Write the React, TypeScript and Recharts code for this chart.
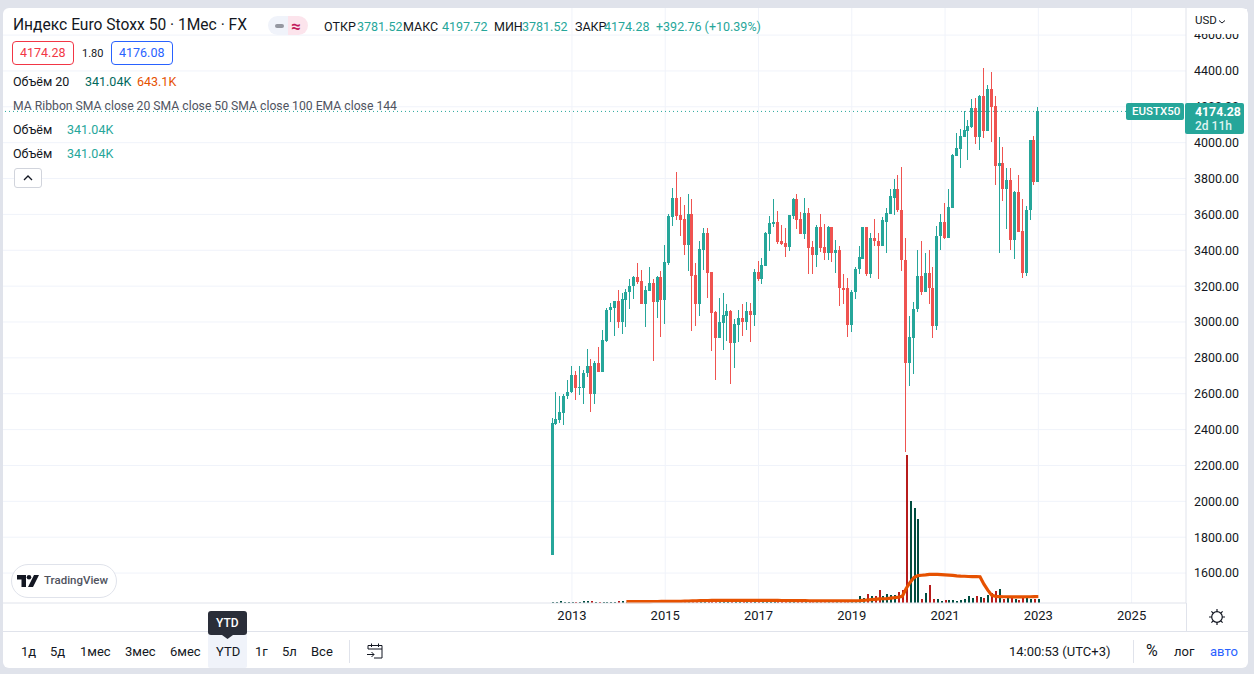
import React from 'react';
import { ComposedChart, Bar, Line, XAxis, YAxis, CartesianGrid, ReferenceLine } from 'recharts';

// monthly bars, Aug 2012 .. Jan 2023
const opens = [
  1702, 2430, 2453, 2495, 2587, 2609, 2702, 2631, 2634, 2713,
  2757, 2598, 2769, 2720, 2896, 3065, 3080, 3119, 3002, 3124,
  3165, 3198, 3252, 3230, 3102, 3174, 3219, 3113, 3252, 3124,
  3330, 3585, 3691, 3596, 3574, 3430, 3602, 3263, 3102, 3402,
  3496, 3280, 3057, 2913, 2996, 3035, 3063, 2885, 2985, 3024,
  3002, 3063, 3041, 3280, 3241, 3313, 3491, 3546, 3557, 3452,
  3441, 3419, 3591, 3688, 3577, 3488, 3610, 3421, 3371, 3527,
  3421, 3382, 3527, 3387, 3399, 3192, 3187, 2986, 3165, 3293,
  3354, 3527, 3270, 3471, 3454, 3426, 3560, 3605, 3694, 3739,
  3627, 3348, 2774, 2908, 3070, 3254, 3170, 3276, 3192, 2975,
  3477, 3555, 3471, 3638, 3928, 3967, 4034, 4067, 4090, 4195,
  4034, 4262, 4067, 4301, 4207, 3872, 3889, 3739, 3794, 3460,
  3727, 3510, 3276, 3622, 4017, 3781.52,
];
const closes = [
  2438, 2459, 2499, 2590, 2612, 2702, 2631, 2635, 2717, 2757,
  2598, 2769, 2720, 2902, 3069, 3085, 3119, 3002, 3130, 3169,
  3202, 3252, 3224, 3102, 3180, 3219, 3113, 3252, 3124, 3335,
  3591, 3691, 3591, 3569, 3430, 3602, 3257, 3102, 3407, 3496,
  3274, 3052, 2913, 3002, 3041, 3063, 2885, 2991, 3024, 3002,
  3063, 3041, 3280, 3241, 3319, 3496, 3552, 3557, 3446, 3435,
  3419, 3596, 3687, 3571, 3488, 3610, 3415, 3371, 3527, 3415,
  3382, 3527, 3387, 3399, 3187, 3181, 2986, 3170, 3298, 3360,
  3527, 3270, 3471, 3449, 3426, 3566, 3610, 3700, 3739, 3622,
  3343, 2774, 2914, 3075, 3254, 3170, 3276, 3187, 2975, 3482,
  3555, 3471, 3644, 3934, 3973, 4039, 4073, 4095, 4195, 4034,
  4262, 4067, 4301, 4201, 3872, 3889, 3739, 3794, 3460, 3727,
  3504, 3276, 3627, 4017, 3778, 4174.28,
];
const highs = [
  2467, 2608, 2585, 2600, 2674, 2757, 2724, 2752, 2731, 2852,
  2791, 2780, 2863, 2957, 3080, 3106, 3119, 3180, 3163, 3183,
  3241, 3258, 3330, 3291, 3202, 3307, 3239, 3258, 3285, 3430,
  3602, 3746, 3835, 3696, 3652, 3713, 3685, 3330, 3452, 3524,
  3524, 3280, 3063, 3135, 3163, 3102, 3069, 3019, 3069, 3102,
  3113, 3107, 3296, 3341, 3357, 3502, 3591, 3685, 3619, 3541,
  3524, 3596, 3691, 3711, 3616, 3694, 3638, 3454, 3543, 3605,
  3549, 3538, 3532, 3460, 3426, 3265, 3248, 3181, 3304, 3426,
  3527, 3527, 3499, 3577, 3499, 3583, 3638, 3739, 3800, 3817,
  3867, 3471, 3031, 3109, 3404, 3454, 3382, 3399, 3309, 3538,
  3605, 3661, 3744, 3939, 4056, 4078, 4179, 4129, 4246, 4251,
  4268, 4418, 4324, 4396, 4262, 4034, 3978, 3856, 3861, 3733,
  3822, 3688, 3649, 4017, 4039, 4197.72,
];
const lows = [
  1702, 2423, 2438, 2425, 2568, 2606, 2565, 2591, 2541, 2691,
  2498, 2541, 2720, 2720, 2891, 2998, 2920, 2965, 2935, 2970,
  3074, 3130, 3213, 3102, 2974, 3174, 2785, 3024, 2919, 2991,
  3319, 3535, 3569, 3480, 3374, 3285, 2952, 2980, 3035, 3291,
  3135, 2841, 2674, 2913, 2846, 2896, 2657, 2746, 2891, 2924,
  2957, 2891, 2980, 3230, 3213, 3313, 3396, 3530, 3435, 3430,
  3363, 3396, 3574, 3521, 3488, 3465, 3265, 3265, 3304, 3393,
  3343, 3348, 3337, 3276, 3092, 3103, 2914, 2942, 3126, 3270,
  3354, 3259, 3248, 3426, 3237, 3426, 3387, 3605, 3594, 3616,
  3282, 2277, 2641, 2708, 3053, 3148, 3170, 3098, 2908, 2953,
  3399, 3465, 3471, 3638, 3928, 3856, 4034, 3906, 4084, 3995,
  3961, 4028, 4067, 4006, 3766, 3387, 3677, 3521, 3404, 3354,
  3504, 3248, 3254, 3566, 3766, 3781.52,
];
// volume in thousands
const volumes = [
  80, 80, 160, 80, 80, 80, 90, 80, 160, 160,
  160, 110, 110, 80, 80, 80, 80, 160, 190, 110,
  120, 100, 110, 130, 120, 110, 120, 130, 140, 160,
  150, 130, 120, 140, 120, 130, 120, 110, 130, 120,
  150, 180, 200, 160, 140, 150, 130, 170, 140, 120,
  130, 150, 130, 140, 120, 110, 130, 120, 110, 120,
  130, 120, 110, 100, 120, 130, 140, 150, 130, 120,
  110, 130, 140, 120, 130, 180, 190, 160, 180, 587,
  427, 747, 587, 587, 1067, 587, 747, 667, 667, 907,
  1067, 11868, 8187, 7627, 6747, 347, 827, 1467, 347, 347,
  187, 267, 267, 267, 187, 267, 347, 587, 427, 587,
  507, 427, 667, 827, 987, 1147, 347, 507, 507, 347,
  267, 507, 507, 347, 347, 341.04,
];
// volume SMA 20, first value sits on month 19
const smaStart = 19;
const smaValues = [
  110, 110, 112, 112, 115, 115, 117, 119, 122, 125, 127, 129, 132, 135, 137,
  145, 155, 165, 175, 185, 195, 200, 205, 210, 215,
  215, 217, 217, 215, 215, 213, 215, 215, 213, 211, 211, 209, 207, 205, 203, 200, 197,
  195, 193, 190, 187, 185, 180, 175, 170, 165, 165, 163, 163, 165, 165, 167, 170, 173, 175,
  188, 215, 240, 265, 295, 325, 340, 348, 385, 425, 475, 535,
  1160, 1640, 2040, 2190,
  2220, 2250, 2290, 2300, 2290, 2270, 2250, 2230, 2210, 2170, 2150, 2140, 2120, 2110, 2110, 2100,
  1500, 1030, 630, 520, 510, 500, 500, 490, 490, 490, 490, 500, 500, 510, 520,
];
const priceTicks = [1600, 1800, 2000, 2200, 2400, 2600, 2800, 3000, 3200, 3400, 3600, 3800, 4000, 4200, 4400, 4600];
const yearTicks = [5, 29, 53, 77, 101, 125, 149];
const yearLabels = ['2013', '2015', '2017', '2019', '2021', '2023', '2025'];
const rangeButtons = [
  ['1д', 21], ['5д', 50], ['1мес', 80], ['3мес', 125], ['6мес', 170],
  ['YTD', 216], ['1г', 255], ['5л', 282], ['Все', 311],
] as [string, number][];

const lastPrice = 4174.28;
const UP = '#26a69a';
const DOWN = '#ef5350';
const FONT = 'Roboto, sans-serif';

const rows = opens.map((open, i) => ({
  month: i,
  open,
  close: closes[i],
  high: highs[i],
  low: lows[i],
  volume: volumes[i],
  sma: i >= smaStart ? smaValues[i - smaStart] : null,
}));

const Candle = (props: any) => {
  const { x, y, width, height, payload } = props;
  const perUnit = height / (payload.high - payload.low);
  const color = payload.close >= payload.open ? UP : DOWN;
  // snap to whole pixels so wicks stay 1px and solid
  const mid = Math.floor(x + width / 2);
  const wickTop = Math.round(y);
  const wickBottom = Math.round(y + height);
  const top = Math.round(y + (payload.high - Math.max(payload.open, payload.close)) * perUnit);
  const bottom = Math.round(y + (payload.high - Math.min(payload.open, payload.close)) * perUnit);
  return (
    <g shapeRendering="crispEdges">
      <rect x={mid} y={wickTop} width={1} height={wickBottom - wickTop} fill={color} />
      <rect x={mid - 1} y={top} width={3} height={Math.max(bottom - top, 1)} fill={color} />
    </g>
  );
};

const VolumeBar = (props: any) => {
  const { x, y, width, height, payload } = props;
  const color = payload.close >= payload.open ? '#004d40' : '#b71c1c';
  return <rect x={Math.floor(x + width / 2)} y={y} width={2} height={height} fill={color} shapeRendering="crispEdges" />;
};

const T = ({ x, y, size = 13, color = '#131722', weight = 400, children }: any) => (
  <span
    style={{
      position: 'absolute',
      left: x,
      top: y,
      transform: 'translateY(-50%)',
      fontSize: size,
      color,
      fontWeight: weight,
      lineHeight: 1,
      whiteSpace: 'nowrap',
    }}
  >
    {children}
  </span>
);

const Box = ({ x, y, w, h, style }: any) => (
  <div style={{ position: 'absolute', left: x, top: y, width: w, height: h, boxSizing: 'border-box', ...style }} />
);

const App = () => {
  return (
    <div style={{ position: 'absolute', left: 0, top: 0, width: 1254, height: 674, background: '#e0e3eb', overflow: 'hidden', fontFamily: FONT }}>
      <Box x={3} y={8} w={1245} h={660} style={{ background: '#fff', borderRadius: 6 }} />

      <div style={{ position: 'absolute', left: 3, top: 8 }}>
        <ComposedChart width={1242} height={623} data={rows} margin={{ top: 0, right: 0, bottom: 0, left: 0 }}>
          <CartesianGrid stroke="#f0f3fa" verticalValues={yearTicks} horizontalValues={priceTicks} />
          <XAxis
            type="number"
            dataKey="month"
            domain={[-141.4, 163]}
            allowDataOverflow
            ticks={yearTicks}
            tickFormatter={(v) => yearLabels[yearTicks.indexOf(v)]}
            height={28}
            stroke="#e0e3eb"
            tickLine={false}
            tick={{ fill: '#131722', fontSize: 13, fontFamily: FONT }}
            interval={0}
          />
          <XAxis xAxisId="vol" type="number" dataKey="month" domain={[-141.4, 163]} allowDataOverflow hide />
          <YAxis
            orientation="right"
            domain={[1433, 4751]}
            allowDataOverflow
            ticks={priceTicks}
            tickFormatter={(v) => v.toFixed(2)}
            width={59}
            stroke="#e0e3eb"
            tickLine={false}
            tick={{ fill: '#131722', fontSize: 12.4, fontFamily: FONT }}
            interval={0}
          />
          <YAxis yAxisId="vol" domain={[0, 47600]} hide />
          <ReferenceLine y={lastPrice} stroke={UP} strokeDasharray="1 3" />
          <Bar
            dataKey={(d: any) => [d.low, d.high]}
            barSize={3}
            shape={<Candle />}
            isAnimationActive={false}
          />
          <Bar
            xAxisId="vol"
            yAxisId="vol"
            dataKey="volume"
            barSize={2}
            shape={<VolumeBar />}
            isAnimationActive={false}
          />
          <Line
            xAxisId="vol"
            yAxisId="vol"
            dataKey="sma"
            stroke="#e65100"
            strokeWidth={3.2}
            dot={false}
            isAnimationActive={false}
          />
        </ComposedChart>
      </div>

      {/* price scale header */}
      <Box x={1187} y={9} w={60} h={25} style={{ background: '#fff' }} />
      <T x={1195} y={21} size={11.5}>USD</T>
      <svg style={{ position: 'absolute', left: 1218, top: 19 }} width={8} height={6}>
        <path d="M1 1.5 L4 4 L7 1.5" fill="none" stroke="#131722" />
      </svg>

      {/* last price labels */}
      <Box x={1126} y={103} w={58} h={17} style={{ background: UP, borderRadius: 2 }} />
      <T x={1132} y={112} size={11.5} color="#fff" weight={500}>EUSTX50</T>
      <Box x={1185} y={103} w={59} h={31} style={{ background: UP, borderRadius: 2 }} />
      <T x={1195} y={112} size={12.3} color="#fff" weight={700}>4174.28</T>
      <T x={1195} y={126} size={12} color="#dff3f0" weight={500}>2d 11h</T>

      {/* legend block */}
      <T x={13} y={26} size={15.6}>Индекс Euro Stoxx 50 · 1Мес · FX</T>
      <Box x={268} y={16} w={20} h={19} style={{ background: '#f0f3fa', borderRadius: '10px 0 0 10px' }} />
      <Box x={288} y={16} w={20} h={19} style={{ background: '#fce4ec', borderRadius: '0 10px 10px 0' }} />
      <Box x={275} y={24} w={9} h={4} style={{ background: '#9598a1', borderRadius: 2 }} />
      <T x={291} y={26} size={17} color="#c2185b" weight={700}>≈</T>
      <T x={324} y={27} size={12.5}>ОТКР</T>
      <T x={357} y={27} size={12.5} color={UP}>3781.52</T>
      <T x={403} y={27} size={12.5}>МАКС</T>
      <T x={442} y={27} size={12.5} color={UP}>4197.72</T>
      <T x={494} y={27} size={12.5}>МИН</T>
      <T x={522} y={27} size={12.5} color={UP}>3781.52</T>
      <T x={575} y={27} size={12.5}>ЗАКР</T>
      <T x={604} y={27} size={12.5} color={UP}>4174.28</T>
      <T x={656} y={27} size={12.5} color={UP}>+392.76 (+10.39%)</T>

      <Box x={12} y={41} w={62} h={24} style={{ border: '1px solid #f23645', borderRadius: 4, background: '#fff' }} />
      <T x={20} y={53} size={12.5} color="#f23645">4174.28</T>
      <T x={82} y={53} size={11}>1.80</T>
      <Box x={111} y={41} w={62} h={24} style={{ border: '1px solid #2962ff', borderRadius: 4, background: '#fff' }} />
      <T x={119} y={53} size={12.5} color="#2962ff">4176.08</T>

      <T x={13} y={82} size={12.5}>Объём 20</T>
      <T x={85} y={82} size={12.5} color="#00695c">341.04K</T>
      <T x={137} y={82} size={12.5} color="#e65100">643.1K</T>
      <T x={13} y={106} size={12.2} color="#50535e">MA Ribbon SMA close 20 SMA close 50 SMA close 100 EMA close 144</T>
      <T x={13} y={130} size={12.5}>Объём</T>
      <T x={67} y={130} size={12.5} color={UP}>341.04K</T>
      <T x={13} y={154} size={12.5}>Объём</T>
      <T x={67} y={154} size={12.5} color={UP}>341.04K</T>
      <Box x={14} y={168} w={28} h={20} style={{ border: '1px solid #d1d4dc', borderRadius: 3, background: '#fff' }} />
      <svg style={{ position: 'absolute', left: 23, top: 175 }} width={10} height={6}>
        <path d="M1 5 L5 1 L9 5" fill="none" stroke="#131722" strokeWidth={1.3} />
      </svg>

      {/* logo */}
      <Box x={11} y={564} w={106} h={34} style={{ background: '#fff', border: '1px solid #e0e3eb', borderRadius: 17 }} />
      <svg style={{ position: 'absolute', left: 17, top: 575 }} width={22} height={12} viewBox="0 0 22 12">
        <path d="M0 0 H9 V12 H4.5 V4.5 H0 Z M17 0 H22 L16 12 H11 Z" fill="#131722" />
        <circle cx={12} cy={2.3} r={2.3} fill="#131722" />
      </svg>
      <T x={44} y={581} size={11.5} color="#50535e" weight={500}>TradingView</T>

      {/* bottom toolbar */}
      <Box x={3} y={631} w={1245} h={1} style={{ background: '#e0e3eb' }} />
      <Box x={1186} y={603} w={1} h={28} style={{ background: '#e0e3eb' }} />
      <svg style={{ position: 'absolute', left: 1208, top: 608 }} width={18} height={18} viewBox="0 0 18 18">
        <circle cx={9} cy={9} r={5.3} fill="none" stroke="#131722" strokeWidth={1.2} />
        <path d="M9 1 V3.7 M9 14.3 V17 M1 9 H3.7 M14.3 9 H17 M3.4 3.4 L5.2 5.2 M12.8 12.8 L14.6 14.6 M14.6 3.4 L12.8 5.2 M5.2 12.8 L3.4 14.6" stroke="#131722" strokeWidth={1.2} />
      </svg>

      <Box x={208} y={632} w={39} h={36} style={{ background: '#f0f3fa', borderRadius: 2 }} />
      <Box x={208} y={611} w={39} h={24} style={{ background: '#2a2e39', borderRadius: 3 }} />
      <svg style={{ position: 'absolute', left: 222, top: 635 }} width={11} height={4}>
        <path d="M0 0 H11 L5.5 4 Z" fill="#2a2e39" />
      </svg>
      <T x={216} y={623} size={12} color="#fff" weight={500}>YTD</T>
      {rangeButtons.map(([label, x]) => (
        <T key={label} x={x} y={651} size={13}>{label}</T>
      ))}
      <Box x={349} y={640} w={1} h={23} style={{ background: '#e0e3eb' }} />
      <svg style={{ position: 'absolute', left: 366, top: 642 }} width={18} height={18} viewBox="0 0 18 18">
        <path d="M2 7 V3.5 H16 V16 H8 M2 7 H16 M5.5 1.5 V5 M12.5 1.5 V5 M1 12.5 H8 M5.5 10 L8 12.5 L5.5 15" fill="none" stroke="#131722" strokeWidth={1} />
      </svg>
      <T x={1009} y={651} size={13}>14:00:53 (UTC+3)</T>
      <Box x={1133} y={640} w={1} h={23} style={{ background: '#e0e3eb' }} />
      <T x={1146} y={651} size={16}>%</T>
      <T x={1174} y={651} size={13}>лог</T>
      <T x={1210} y={651} size={13} color="#2962ff">авто</T>
    </div>
  );
};

export default App;
